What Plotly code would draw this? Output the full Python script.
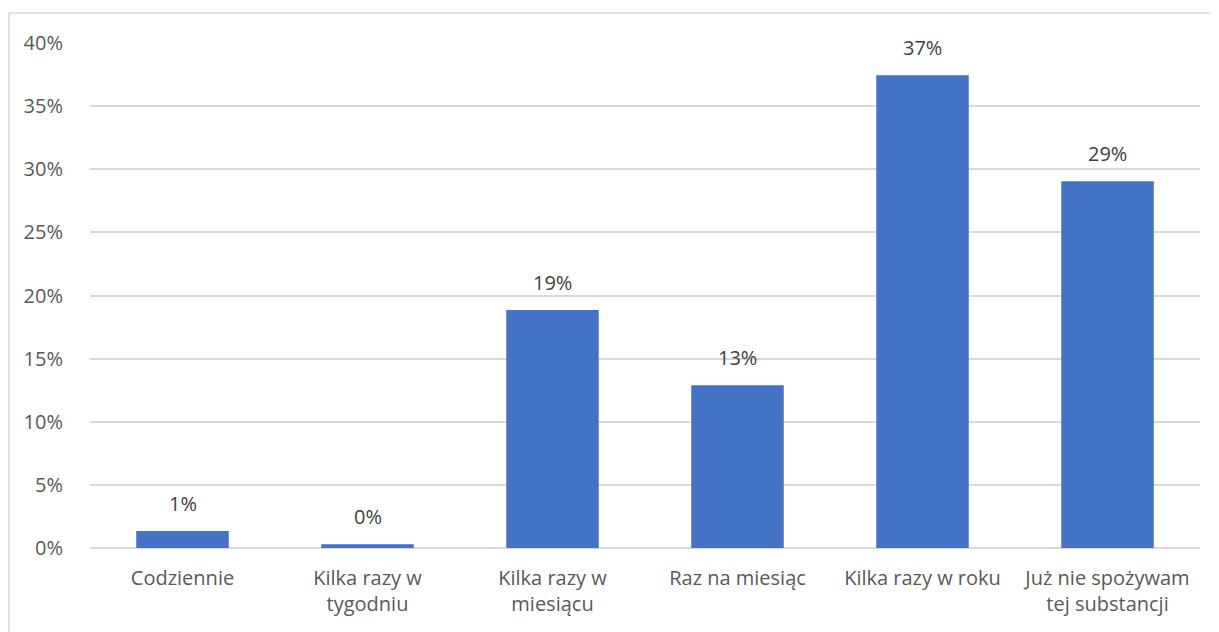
import plotly.graph_objects as go

categories = ["Codziennie", "Kilka razy w<br>tygodniu", "Kilka razy w<br>miesiącu",
              "Raz na miesiąc", "Kilka razy w roku", "Już nie spożywam<br>tej substancji"]
values = [1.35, 0.3, 18.85, 12.9, 37.45, 29.05]
labels = ["1%", "0%", "19%", "13%", "37%", "29%"]
y_ticks = [0, 5, 10, 15, 20, 25, 30, 35, 40]
y_tick_labels = ["0%", "5%", "10%", "15%", "20%", "25%", "30%", "35%", "40%"]

FONT = "'Open Sans', sans-serif"
GRAY = "#595959"

fig = go.Figure()
fig.add_trace(go.Bar(x=categories, y=values, width=0.5, marker_color="#4472C4",
                     marker_line_width=0, hoverinfo="skip"))

for c, v, t in zip(categories, values, labels):
    fig.add_annotation(x=c, y=v, text=t, showarrow=False, yanchor="bottom", yshift=12,
                       font=dict(family=FONT, size=20, color="#404040"))

fig.add_shape(type="rect", xref="paper", yref="paper", x0=-0.073, x1=1.0162, y0=-0.2, y1=1.0594,
              line=dict(color="#D9D9D9", width=1.5), fillcolor="rgba(0,0,0,0)", layer="below")

fig.update_layout(
    width=1211, height=624,
    margin=dict(l=82, r=19, t=35, b=84),
    paper_bgcolor="white", plot_bgcolor="white",
    showlegend=False, bargap=0.5,
    font=dict(family=FONT, size=20, color=GRAY),
    xaxis=dict(showgrid=False, showline=False, ticks="outside", ticklen=12,
               tickcolor="rgba(0,0,0,0)", tickfont=dict(family=FONT, size=20, color=GRAY)),
    yaxis=dict(range=[0, 40], tickvals=y_ticks, ticktext=y_tick_labels, showgrid=True,
               gridcolor="#D9D9D9", gridwidth=1.5, zeroline=True, zerolinecolor="#D9D9D9",
               zerolinewidth=1.5, showline=False, ticks="outside", ticklen=22,
               tickcolor="rgba(0,0,0,0)", tickfont=dict(family=FONT, size=20, color=GRAY)),
)

fig.write_html("out.html")
